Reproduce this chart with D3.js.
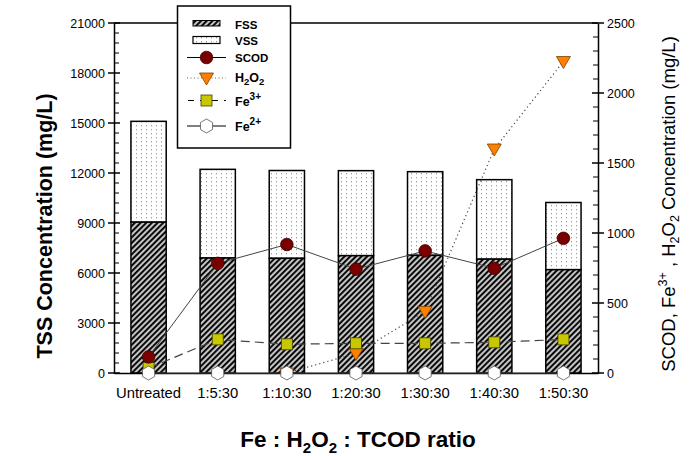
<!DOCTYPE html>
<html><head><meta charset="utf-8">
<script src="https://cdn.jsdelivr.net/npm/d3@7/dist/d3.min.js"></script>
<style>
body{margin:0;background:#fff;}
svg{display:block;font-family:"Liberation Sans",Arial,sans-serif;}
</style></head>
<body>
<svg id="chart" width="694" height="456"></svg>
<script>
const categories = ["Untreated","1:5:30","1:10:30","1:20:30","1:30:30","1:40:30","1:50:30"];
const fss = [9050, 6900, 6880, 7040, 7060, 6830, 6200];
const tss = [15100, 12220, 12150, 12140, 12080, 11600, 10230];
const scod = [115, 783, 918, 742, 872, 748, 962];
const h2o2 = [null, null, 0, 140, 440, 1600, 2225];
const fe3 = [35, 240, 205, 212, 212, 219, 240];
const fe2 = [0, 0, 0, 0, 0, 0, 0];
const leftTicks = [0,3000,6000,9000,12000,15000,18000,21000];
const rightTicks = [0,500,1000,1500,2000,2500];

const svg = d3.select("#chart");
const L=114, R=598, T=23, B=373;
const x = d3.scaleBand().domain(categories).range([L,R]).paddingInner(0.49).paddingOuter(0.245);
const yL = d3.scaleLinear().domain([0,21000]).range([B,T]);
const yR = d3.scaleLinear().domain([0,2500]).range([B,T]);

const defs = svg.append("defs");
const hp = defs.append("pattern").attr("id","hatch").attr("patternUnits","userSpaceOnUse")
  .attr("width",4).attr("height",4).attr("patternTransform","rotate(45)");
hp.append("rect").attr("width",4).attr("height",4).attr("fill","#c4c4c4");
hp.append("rect").attr("x",0).attr("width",1.9).attr("height",4).attr("fill","#000");
const dp = defs.append("pattern").attr("id","dots").attr("patternUnits","userSpaceOnUse")
  .attr("width",5).attr("height",4);
dp.append("rect").attr("width",5).attr("height",4).attr("fill","#fff");
dp.append("rect").attr("x",1).attr("y",1).attr("width",1).attr("height",1.3).attr("fill","#999");

// bars
const bw = x.bandwidth();
const bars = svg.append("g");
categories.forEach((c,i)=>{
  bars.append("rect").attr("x",x(c)).attr("y",yL(tss[i])).attr("width",bw).attr("height",yL(fss[i])-yL(tss[i]))
    .attr("fill","url(#dots)").attr("stroke","#000").attr("stroke-width",1.5);
  bars.append("rect").attr("x",x(c)).attr("y",yL(fss[i])).attr("width",bw).attr("height",B-yL(fss[i]))
    .attr("fill","url(#hatch)").attr("stroke","#000").attr("stroke-width",1.5);
});

// frame / axes
const lw=1.5;
svg.append("line").attr("x1",L).attr("x2",R).attr("y1",T).attr("y2",T).attr("stroke","#000").attr("stroke-width",lw);
const axL = svg.append("g").attr("transform",`translate(${L},0)`);
axL.call(d3.axisLeft(yL).tickValues(leftTicks).tickSize(0).tickPadding(9).tickFormat(d3.format("d")));
axL.select(".domain").attr("stroke-width",lw);
axL.selectAll("text").attr("font-size",12.5).attr("fill","#000").attr("font-family","Liberation Sans, Arial, sans-serif");
d3.range(0,21001,600).forEach(v=>{
  const major = v%3000===0;
  axL.append("line").attr("x1",major?-6:0).attr("x2",major?6:5).attr("y1",yL(v)).attr("y2",yL(v))
    .attr("stroke","#000").attr("stroke-width",major?1.5:1);
});
const axR = svg.append("g").attr("transform",`translate(${R},0)`);
axR.call(d3.axisRight(yR).tickValues(rightTicks).tickSize(0).tickPadding(9).tickFormat(d3.format("d")));
axR.select(".domain").attr("stroke-width",lw);
axR.selectAll("text").attr("font-size",12.5).attr("fill","#000").attr("font-family","Liberation Sans, Arial, sans-serif");
d3.range(0,2501,100).forEach(v=>{
  const major = v%500===0;
  axR.append("line").attr("x1",major?-6:-5).attr("x2",major?6:0).attr("y1",yR(v)).attr("y2",yR(v))
    .attr("stroke","#000").attr("stroke-width",major?1.5:1);
});
const axB = svg.append("g").attr("transform",`translate(0,${B})`);
axB.call(d3.axisBottom(x).tickSize(0).tickPadding(14));
axB.select(".domain").attr("stroke-width",lw);
axB.selectAll("text").attr("font-size",14.8).attr("fill","#000").attr("font-family","Liberation Sans, Arial, sans-serif");

// lines
const pts = arr => categories.map((c,i)=>({c, v:arr[i]})).filter(d=>d.v!==null);
const line = d3.line().x(d=>x(d.c)+bw/2).y(d=>yR(d.v));
svg.append("path").datum(pts(fe2)).attr("d",line).attr("fill","none").attr("stroke","#444").attr("stroke-width",1);
svg.append("path").datum(pts(scod)).attr("d",line).attr("fill","none").attr("stroke","#444").attr("stroke-width",1);
svg.append("path").datum(pts(h2o2)).attr("d",line).attr("fill","none").attr("stroke","#444").attr("stroke-width",1.2).attr("stroke-dasharray","1.2,3");
svg.append("path").datum(pts(fe3)).attr("d",line).attr("fill","none").attr("stroke","#444").attr("stroke-width",1.2).attr("stroke-dasharray","9,5");

// markers
const hex = r => d3.range(6).map(k=>{const a=Math.PI/3*k+Math.PI/6;return [r*Math.cos(a), r*Math.sin(a)];});
const hexPath = "M"+hex(7).map(p=>p.join(",")).join("L")+"Z";
function markSCOD(g,cx,cy){g.append("circle").attr("cx",cx).attr("cy",cy).attr("r",6.3).attr("fill","#7a0000").attr("stroke","#3a0000").attr("stroke-width",0.8);}
function markH2O2(g,cx,cy){g.append("path").attr("d",`M${cx-7},${cy-5}L${cx+7},${cy-5}L${cx},${cy+7}Z`).attr("fill","#ff8000").attr("stroke","#7a4000").attr("stroke-width",0.8);}
function markFe3(g,cx,cy){g.append("rect").attr("x",cx-5.5).attr("y",cy-5.5).attr("width",11).attr("height",11).attr("fill","#c8c800").attr("stroke","#404000").attr("stroke-width",0.8);}
function markFe2(g,cx,cy){g.append("path").attr("d",hexPath).attr("transform",`translate(${cx},${cy})`).attr("fill","#fff").attr("stroke","#555").attr("stroke-width",0.8);}
const mg = svg.append("g");
pts(h2o2).forEach(d=>markH2O2(mg,x(d.c)+bw/2,yR(d.v)));
pts(fe3).forEach(d=>markFe3(mg,x(d.c)+bw/2,yR(d.v)));
pts(scod).forEach(d=>markSCOD(mg,x(d.c)+bw/2,yR(d.v)));
pts(fe2).forEach(d=>markFe2(mg,x(d.c)+bw/2,yR(d.v)));

// legend
const lg = svg.append("g");
lg.append("rect").attr("x",177.5).attr("y",6).attr("width",113).attr("height",142).attr("fill","#fff").attr("stroke","#000").attr("stroke-width",1.5);
const lx1=187, lx2=226, lmx=206.5, tx=235;
const ltxt = (y)=>lg.append("text").attr("x",tx).attr("y",y).attr("font-size",11.5).attr("font-weight","bold").attr("fill","#000");
lg.append("rect").attr("x",193).attr("y",20.5).attr("width",27).attr("height",5.5).attr("fill","url(#hatch)").attr("stroke","#000").attr("stroke-width",1);
ltxt(28.5).text("FSS");
lg.append("rect").attr("x",193).attr("y",36.5).attr("width",27).attr("height",7).attr("fill","url(#dots)").attr("stroke","#000").attr("stroke-width",1.2);
ltxt(45).text("VSS");
lg.append("line").attr("x1",lx1).attr("x2",lx2).attr("y1",57.5).attr("y2",57.5).attr("stroke","#000").attr("stroke-width",1);
markSCOD(lg,lmx,57.5);
ltxt(61.5).text("SCOD");
lg.append("line").attr("x1",lx1).attr("x2",lx2).attr("y1",78).attr("y2",78).attr("stroke","#666").attr("stroke-width",1).attr("stroke-dasharray","1,2.5");
markH2O2(lg,lmx,78);
const th = ltxt(81.5);
th.append("tspan").text("H").attr("font-size",12.5);
th.append("tspan").text("2").attr("font-size",9.5).attr("dy",3);
th.append("tspan").text("O").attr("font-size",12.5).attr("dy",-3);
th.append("tspan").text("2").attr("font-size",9.5).attr("dy",3);
lg.append("line").attr("x1",lx1).attr("x2",lx2).attr("y1",100.5).attr("y2",100.5).attr("stroke","#000").attr("stroke-width",1).attr("stroke-dasharray","6,6").attr("stroke-dashoffset","-1");
markFe3(lg,lmx,100.5);
const tf3 = ltxt(105.5);
tf3.append("tspan").text("Fe").attr("font-size",12.5);
tf3.append("tspan").text("3+").attr("font-size",10).attr("dy",-6);
lg.append("line").attr("x1",lx1).attr("x2",lx2).attr("y1",126).attr("y2",126).attr("stroke","#000").attr("stroke-width",1);
markFe2(lg,lmx,126);
const tf2 = ltxt(130.5);
tf2.append("tspan").text("Fe").attr("font-size",12.5);
tf2.append("tspan").text("2+").attr("font-size",10).attr("dy",-6);

// axis titles
svg.append("text").attr("transform",`translate(52,226) rotate(-90)`).attr("text-anchor","middle")
  .attr("font-size",21.5).attr("font-weight","bold").text("TSS Concentration (mg/L)");
const rt = svg.append("text").attr("transform",`translate(675,204) rotate(-90)`).attr("text-anchor","middle")
  .attr("font-size",18.5).attr("font-weight","normal");
rt.append("tspan").text("SCOD, Fe");
rt.append("tspan").text("3+").attr("font-size",12.5).attr("dy",-8);
rt.append("tspan").text(" , H").attr("dy",8);
rt.append("tspan").text("2").attr("font-size",12.5).attr("dy",4);
rt.append("tspan").text("O").attr("dy",-4);
rt.append("tspan").text("2").attr("font-size",12.5).attr("dy",4);
rt.append("tspan").text(" Concentration (mg/L)").attr("dy",-4);
const xt = svg.append("text").attr("x",358).attr("y",447).attr("text-anchor","middle").attr("font-size",22.5).attr("font-weight","bold");
xt.append("tspan").text("Fe : H");
xt.append("tspan").text("2").attr("font-size",15).attr("dy",6);
xt.append("tspan").text("O").attr("dy",-6);
xt.append("tspan").text("2").attr("font-size",15).attr("dy",6);
xt.append("tspan").text(" : TCOD ratio").attr("dy",-6);
</script>
</body></html>
